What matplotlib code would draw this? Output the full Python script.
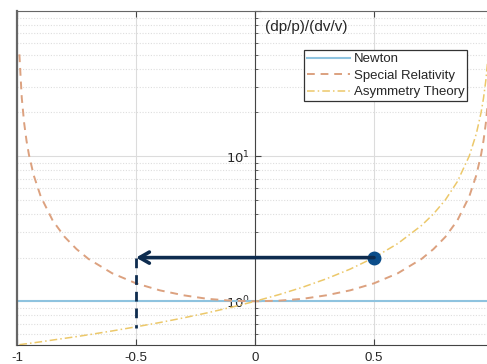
import matplotlib.pyplot as plt
from matplotlib.ticker import LogLocator, NullFormatter

plt.rcParams['font.family'] = ['Liberation Sans', 'DejaVu Sans']

# speed ratio v/c
v = [-0.99, -0.98, -0.97, -0.96, -0.95, -0.93, -0.9, -0.85, -0.8, -0.75, -0.7,
     -0.6, -0.5, -0.4, -0.3, -0.2, -0.1, 0.0, 0.1, 0.2, 0.3, 0.4, 0.5, 0.6,
     0.7, 0.75, 0.8, 0.85, 0.9, 0.93, 0.95, 0.96, 0.97, 0.98, 0.99]

newton = [1.0] * len(v)
special_rel = [50.25, 25.25, 16.92, 12.76, 10.26, 7.40, 5.26, 3.60, 2.78, 2.29, 1.96,
               1.56, 1.33, 1.19, 1.10, 1.04, 1.01, 1.00, 1.01, 1.04, 1.10, 1.19, 1.33, 1.56,
               1.96, 2.29, 2.78, 3.60, 5.26, 7.40, 10.26, 12.76, 16.92, 25.25, 50.25]
asymmetry = [0.503, 0.505, 0.508, 0.510, 0.513, 0.518, 0.526, 0.541, 0.556, 0.571, 0.588,
             0.625, 0.667, 0.714, 0.769, 0.833, 0.909, 1.0, 1.111, 1.25, 1.429, 1.667, 2.0, 2.5,
             3.333, 4.0, 5.0, 6.667, 10.0, 14.29, 20.0, 25.0, 33.33, 50.0, 100.0]

# the arrow example: v=0.5 maps to v=-0.5 at the same ratio
point_x = 0.5
point_y = 2.0
target_x = -0.5
drop_bottom = 0.65

xticks = [-1, -0.5, 0, 0.5, 1]
xticklabels = ['-1', '-0.5', '0', '0.5', '']
yticks = [1, 10, 100]
yticklabels = ['$10^0$', '$10^1$', '']

fig = plt.figure(figsize=(4.87, 3.64), dpi=100)
ax = fig.add_axes([17 / 487, 19 / 364, 476 / 487, 334 / 364])

ax.set_yscale('log')
ax.set_xlim(-1, 1)
ax.set_ylim(0.5, 100)

# grid
ax.grid(True, which='major', axis='both', color='#dcdcdc', lw=0.8, ls='-')
ax.grid(True, which='minor', axis='y', color='#dedede', lw=0.8, ls=(0, (1, 1.5)))
ax.set_axisbelow(True)

ax.plot(v, newton, color='#8ec3df', lw=1.5, label='Newton')
ax.plot(v, special_rel, color='#dca17f', lw=1.4, ls=(0, (4, 3)), label='Special Relativity')
ax.plot(v, asymmetry, color='#ecc86a', lw=1.1, ls=(0, (5, 2, 1, 2)), label='Asymmetry Theory')

# arrow and markers
ax.annotate('', xy=(target_x, point_y), xytext=(point_x, point_y),
            arrowprops=dict(arrowstyle='->,head_length=0.7,head_width=0.4',
                            color='#0e2c4f', lw=2.6, shrinkA=0, shrinkB=0))
ax.plot([target_x, target_x], [point_y, drop_bottom], color='#0e2c4f', lw=2,
        ls=(0, (3.5, 2.5)))
ax.plot(point_x, point_y, 'o', color='#0b4d8a', ms=9)

# axes at origin
ax.spines['left'].set_position(('data', 0))
ax.spines['left'].set_color('#444444')
ax.spines['bottom'].set_color('#444444')
ax.spines['top'].set_color('#666666')
ax.spines['right'].set_color('#666666')
ax.axvline(-1, color='#666666', lw=1.6, clip_on=False)

ax.set_xticks(xticks)
ax.set_xticklabels(xticklabels)
ax.set_yticks(yticks)
ax.set_yticklabels(yticklabels)
ax.yaxis.set_minor_locator(LogLocator(base=10, subs=range(2, 10), numticks=20))
ax.yaxis.set_minor_formatter(NullFormatter())
ax.tick_params(axis='x', direction='in', top=True, length=4, labelsize=9.5,
               color='#444444', labelcolor='#262626', pad=5)
ax.tick_params(axis='y', which='major', direction='in', length=4, labelsize=9.5,
               color='#444444', labelcolor='#262626')
ax.tick_params(axis='y', which='minor', direction='in', length=2, color='#444444')

ax.text(0.521, 0.952, '(dp/p)/(dv/v)', transform=ax.transAxes, fontsize=11,
        color='#262626', va='center', ha='left')

leg = ax.legend(loc='upper left', bbox_to_anchor=(0.603, 0.882), fontsize=9.5,
                fancybox=False, framealpha=1, edgecolor='#333333',
                handlelength=3.3, handletextpad=0.3, borderpad=0.2, labelspacing=0.32,
                borderaxespad=0)
leg.get_frame().set_linewidth(0.9)
for t in leg.get_texts():
    t.set_color('#262626')

fig.savefig('out.png', dpi=100)
